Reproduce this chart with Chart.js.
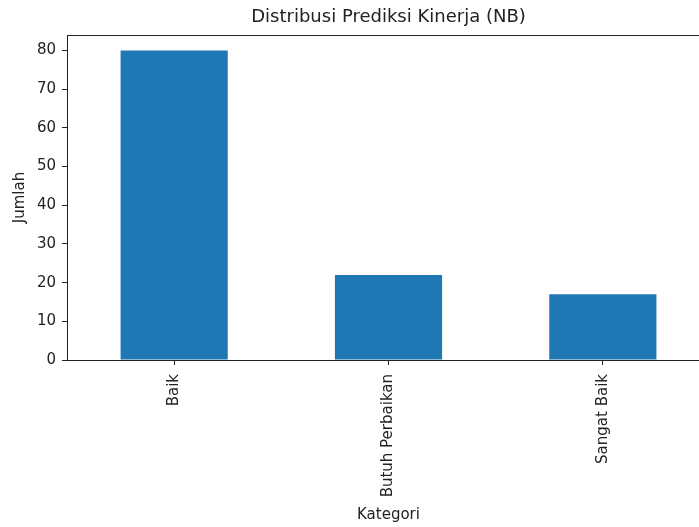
<!DOCTYPE html>
<html>
<head>
<meta charset="utf-8">
<script src="https://cdn.jsdelivr.net/npm/chart.js@4/dist/chart.umd.min.js"></script>
<style>
  html, body { margin: 0; padding: 0; background: #fff; overflow: hidden; }
  #wrap { width: 712px; height: 527px; }
</style>
</head>
<body>
<div id="wrap"><canvas id="myChart" width="712" height="527"></canvas></div>
<script>
// data
const categories = ['Baik', 'Butuh Perbaikan', 'Sangat Baik'];
const counts = [80, 22, 17];
const yTicks = [0, 10, 20, 30, 40, 50, 60, 70, 80];

const chartTitle = 'Distribusi Prediksi Kinerja (NB)';
const xTitle = 'Kategori';
const yTitle = 'Jumlah';

const ink = '#222';
const font = 'DejaVu Sans';

//draw the top and right spines like matplotlib
const frame = {
    id: 'frame',
    afterDraw(chart) {
        const { ctx, chartArea: a } = chart;
        ctx.save();
        ctx.strokeStyle = ink;
        ctx.lineWidth = 1;
        ctx.strokeRect(a.left + 0.5, a.top + 0.5, a.right - a.left, a.bottom - a.top);
        ctx.restore();
    }
};

const ctx = document.getElementById('myChart');
new Chart(ctx, {
    type: 'bar',
    data: {
        labels: categories,
        datasets: [{
            data: counts,
            backgroundColor: '#1f77b4',
            borderWidth: 0,
            barPercentage: 0.5,
            categoryPercentage: 1
        }]
    },
    options: {
        responsive: false,
        animation: false,
        layout: { padding: { left: 0, right: 2, top: 0, bottom: 0 } },
        plugins: {
            legend: { display: false },
            tooltip: { enabled: false },
            title: {
                display: true,
                text: chartTitle,
                fullSize: false,
                color: ink,
                font: { family: font, size: 18, weight: 'normal' },
                padding: { top: 7, bottom: 6.4 }
            }
        },
        scales: {
            x: {
                offset: true,
                grid: { offset: false, drawOnChartArea: false, drawTicks: true, tickLength: 5, color: ink },
                border: { display: true, color: ink },
                ticks: {
                    color: ink,
                    font: { family: font, size: 15 },
                    minRotation: 90,
                    maxRotation: 90,
                    padding: 9
                },
                title: {
                    display: true,
                    text: xTitle,
                    color: ink,
                    font: { family: font, size: 15 },
                    padding: { top: 4, bottom: 3 }
                },
                afterFit: s => { s.height = 167; }
            },
            y: {
                min: 0,
                max: 84,
                afterBuildTicks: s => { s.ticks = yTicks.map(v => ({ value: v })); },
                grid: { drawOnChartArea: false, drawTicks: true, tickLength: 5, color: ink },
                border: { display: true, color: ink },
                ticks: {
                    color: ink,
                    font: { family: font, size: 15 },
                    padding: 6
                },
                title: {
                    display: true,
                    text: yTitle,
                    color: ink,
                    font: { family: font, size: 15 },
                    padding: { top: 11, bottom: 0 }
                },
                afterFit: s => { s.width = 67; }
            }
        }
    },
    plugins: [frame]
});
</script>
</body>
</html>
